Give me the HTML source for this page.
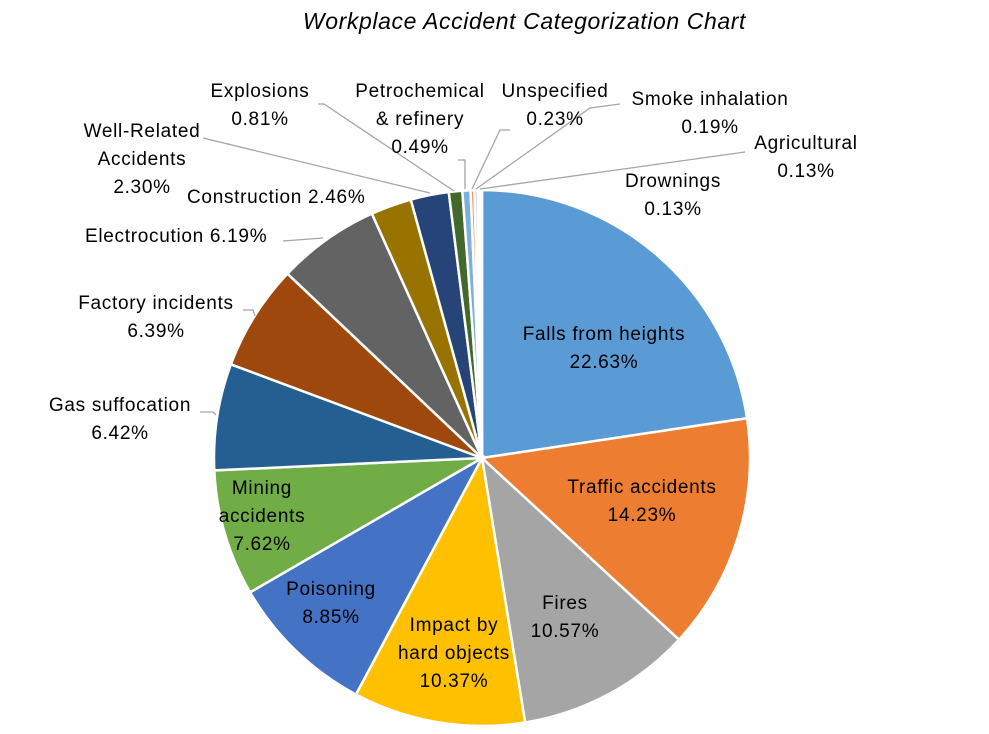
<!DOCTYPE html>
<html><head><meta charset="utf-8"><style>
body{margin:0;background:#fff}
#c{position:relative;width:989px;height:734px;overflow:hidden;font-family:"Liberation Sans",sans-serif;font-size:19px;letter-spacing:0.7px;color:#000}
.l{position:absolute;text-align:center;line-height:28px;white-space:nowrap}
</style></head><body><div id="c">
<svg id="s" width="989" height="734" style="position:absolute;left:0;top:0"></svg>
<div class="l" style="left:30px;width:989px;top:7px;font-style:italic;font-size:23px;letter-spacing:0.6px">Workplace Accident Categorization Chart</div>
<div class="l" style="left:494px;width:220px;top:321px">Falls from heights<br>22.63%</div>
<div class="l" style="left:532px;width:220px;top:474px">Traffic accidents<br>14.23%</div>
<div class="l" style="left:505px;width:120px;top:590px">Fires<br>10.57%</div>
<div class="l" style="left:379px;width:150px;top:612px">Impact by<br>hard objects<br>10.37%</div>
<div class="l" style="left:266px;width:130px;top:576px">Poisoning<br>8.85%</div>
<div class="l" style="left:197px;width:130px;top:475px">Mining<br>accidents<br>7.62%</div>
<div class="l" style="left:10px;width:220px;top:392px">Gas suffocation<br>6.42%</div>
<div class="l" style="left:46px;width:220px;top:290px">Factory incidents<br>6.39%</div>
<div class="l" style="left:85px;top:223px">Electrocution 6.19%</div>
<div class="l" style="left:187px;top:184px">Construction 2.46%</div>
<div class="l" style="left:62px;width:160px;top:118px">Well-Related<br>Accidents<br>2.30%</div>
<div class="l" style="left:195px;width:130px;top:78px">Explosions<br>0.81%</div>
<div class="l" style="left:330px;width:180px;top:78px">Petrochemical<br>&amp; refinery<br>0.49%</div>
<div class="l" style="left:485px;width:140px;top:78px">Unspecified<br>0.23%</div>
<div class="l" style="left:605px;width:210px;top:86px">Smoke inhalation<br>0.19%</div>
<div class="l" style="left:736px;width:140px;top:130px">Agricultural<br>0.13%</div>
<div class="l" style="left:603px;width:140px;top:168px">Drownings<br>0.13%</div>
</div>
<script>
var d=[22.63,14.23,10.57,10.37,8.85,7.62,6.42,6.39,6.19,2.46,2.30,0.81,0.49,0.23,0.19,0.13,0.13];
var col=["#5B9BD5","#ED7D31","#A5A5A5","#FFC000","#4472C4","#70AD47","#255E91","#9E480E","#636363","#997300","#264478","#43682B","#7CAFDD","#F1975A","#B7B7B7","#FFCD33","#698ED0"];
var cx=482,cy=458,r=268,tot=0;d.forEach(function(v){tot+=v});
var s="",a=0;
function pt(t){return [cx+r*Math.sin(t),cy-r*Math.cos(t)];}
d.forEach(function(v,i){var a0=a*2*Math.PI/tot;a+=v;var a1=a*2*Math.PI/tot;var p0=pt(a0),p1=pt(a1);
s+='<path d="M'+cx+','+cy+'L'+p0[0]+','+p0[1]+'A'+r+','+r+' 0 '+(a1-a0>Math.PI?1:0)+' 1 '+p1[0]+','+p1[1]+'Z" fill="'+col[i]+'" stroke="#fff" stroke-width="2.5"/>';});
var L=[[[283,241],[323,238]],[[243,310],[253,310],[255,316]],[[200,412],[213,412],[216,415]],[[203,138],[430,193]],[[318,104],[324,104],[454,191]],[[458,160],[465,160],[465,189]],[[510,130],[500,130],[472,189]],[[620,104],[590,108],[476,189]],[[745,152],[480,189]]];
L.forEach(function(p){s+='<polyline points="'+p.map(function(q){return q.join(',')}).join(' ')+'" fill="none" stroke="#A5A5A5" stroke-width="1.3"/>';});
document.getElementById('s').innerHTML=s;
</script></body></html>
